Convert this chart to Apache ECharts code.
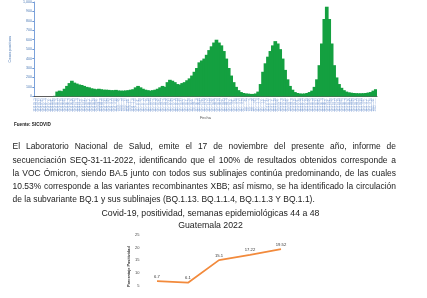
<!DOCTYPE html>
<html><head><meta charset="utf-8">
<script src="https://cdn.jsdelivr.net/npm/echarts@6/dist/echarts.min.js"></script>
<style>html,body{margin:0;padding:0;background:#fff}#c{width:427px;height:298px}</style>
</head><body><div id="c"></div><script>
// ---- Data: weekly positive counts ----
const positivos = [
  0,0,0,0,0,0,0,0,5,50,
  60,55,80,110,140,165,145,135,125,120,
  110,100,95,85,80,75,80,75,70,70,
  68,65,65,68,62,60,60,62,65,70,
  75,95,110,95,80,70,65,60,65,70,
  80,95,110,100,150,175,165,150,130,125,
  140,150,170,190,220,260,300,360,380,400,
  440,490,530,570,600,570,540,480,400,300,
  220,150,100,65,45,35,30,28,25,25,
  30,50,130,260,350,420,480,540,585,560,
  500,400,280,180,110,70,45,35,30,28,
  30,35,45,60,100,180,330,560,820,950,
  820,560,330,200,130,90,65,50,42,38,
  35,33,32,32,33,35,40,45,60,75
];
const fechaInicio = '2020-03-13';
const fechas = [];
(function(){ const d0 = new Date(fechaInicio + 'T00:00:00Z');
  for (let i = 0; i < positivos.length; i++) {
    const d = new Date(d0.getTime() + i * 7 * 86400000);
    fechas.push(d.toISOString().slice(0,10));
  }})();

const semanas = ['44', '45', '46', '47', '48'];
const positividad = [6.7, 6.1, 15.1, 17.22, 19.52];

const fuente = 'Fuente: SICOVID';
const parrafo = [
  'El Laboratorio Nacional de Salud, emite el 17 de noviembre del presente año, informe de',
  'secuenciación SEQ-31-11-2022, identificando que el 100% de resultados obtenidos corresponde a',
  'la VOC Ómicron, siendo BA.5 junto con todos sus sublinajes continúa predominando, de las cuales',
  '10.53% corresponde a las variantes recombinantes XBB; así mismo, se ha identificado la circulación',
  'de la subvariante BQ.1 y sus sublinajes (BQ.1.13. BQ.1.1.4, BQ.1.1.3 Y BQ.1.1).'
];
const titulo = ['Covid-19, positividad, semanas epidemiológicas 44 a 48', 'Guatemala 2022'];

// ---- Layout ----
const FONT = '"Liberation Sans", Arial, sans-serif';
const PFS = 9.1, PSX = 0.93;
const pLeft = 12.5, pRight = 396;
const pY = [146.7, 160, 173.3, 186.6, 199.6];
const ctx = document.createElement('canvas').getContext('2d');
ctx.font = PFS + 'px "Liberation Sans"';
const graphics = [];
parrafo.forEach((line, li) => {
  const words = line.split(' ');
  const widths = words.map(w => ctx.measureText(w).width);
  const sum = widths.reduce((a, b) => a + b, 0);
  const last = li === parrafo.length - 1;
  const avail = (pRight - pLeft) / PSX;
  let gap = last ? ctx.measureText(' ').width : (avail - sum) / (words.length - 1);
  gap = Math.max(gap, 1.5);
  let x = 0;
  const children = [];
  words.forEach((w, wi) => {
    children.push({ type: 'text', x: x, y: 0,
      style: { text: w, font: PFS + 'px ' + FONT, fill: '#1c1c1c', textVerticalAlign: 'middle' } });
    x += widths[wi] + gap;
  });
  graphics.push({ type: 'group', x: pLeft, y: pY[li], scaleX: PSX, children: children });
});
graphics.push({ type: 'text', x: 14, y: 124.5,
  style: { text: fuente, font: 'bold 4.6px ' + FONT, fill: '#222', textVerticalAlign: 'middle' } });
titulo.forEach((t, i) => {
  graphics.push({ type: 'group', x: 210.5, y: 213 + i * 12, scaleX: 0.91, children: [
    { type: 'text', x: 0, y: 0,
      style: { text: t, font: '9.6px ' + FONT, fill: '#1c1c1c', textAlign: 'center', textVerticalAlign: 'middle' } }]});
});

const chart = echarts.init(document.getElementById('c'), null, { renderer: 'canvas' });
chart.setOption({
  animation: false,
  backgroundColor: '#ffffff',
  textStyle: { fontFamily: FONT },
  graphic: graphics,
  grid: [
    { left: 27, top: 0.3, width: 350, height: 96, containLabel: false },
    { left: 141.5, top: 235.3, width: 155, height: 65, containLabel: false }
  ],
  xAxis: [
    { gridIndex: 0, type: 'category', data: fechas, boundaryGap: true,
      axisLine: { lineStyle: { color: '#333', width: 0.8 } }, axisTick: { show: false },
      axisLabel: { interval: 0, rotate: 90, fontSize: 2.6, color: '#7d9ed4', margin: 2 },
      name: 'Fecha', nameLocation: 'middle', nameGap: 20,
      nameTextStyle: { fontSize: 4, color: '#555' } },
    { gridIndex: 1, type: 'category', data: semanas, boundaryGap: true, show: false }
  ],
  yAxis: [
    { gridIndex: 0, type: 'value', min: 0, max: 1000, interval: 100,
      axisLine: { show: true, lineStyle: { color: '#5a8ad0', width: 0.8 } },
      axisTick: { show: true, length: 1.5, lineStyle: { color: '#5a8ad0' } },
      axisLabel: { fontSize: 3.6, color: '#4a78b5', margin: 2 },
      splitLine: { show: false },
      name: 'Casos positivos', nameLocation: 'middle', nameGap: 10, nameRotate: 90,
      nameTextStyle: { fontSize: 3.8, color: '#4a78b5' } },
    { gridIndex: 1, type: 'value', min: 0, max: 25, interval: 5,
      axisLine: { show: false }, axisTick: { show: false }, splitLine: { show: false },
      axisLabel: { fontSize: 4, color: '#444', margin: 2,
        formatter: v => v === 0 ? '' : String(v) },
      name: 'Porcentaje Positividad', nameLocation: 'middle', nameGap: 9, nameRotate: 90,
      nameTextStyle: { fontSize: 3.8, color: '#333', fontWeight: 'bold' } }
  ],
  series: [
    { type: 'bar', xAxisIndex: 0, yAxisIndex: 0, data: positivos, barWidth: '150%',
      itemStyle: { color: '#14a040' } },
    { type: 'line', xAxisIndex: 1, yAxisIndex: 1, data: positividad,
      symbol: 'circle', symbolSize: 0.01, showSymbol: true,
      itemStyle: { color: '#f28a3c' },
      lineStyle: { color: '#f28a3c', width: 1.8 },
      label: { show: true, position: 'top', distance: 2.5, fontSize: 4.2, color: '#333' } }
  ]
});
</script></body></html>
